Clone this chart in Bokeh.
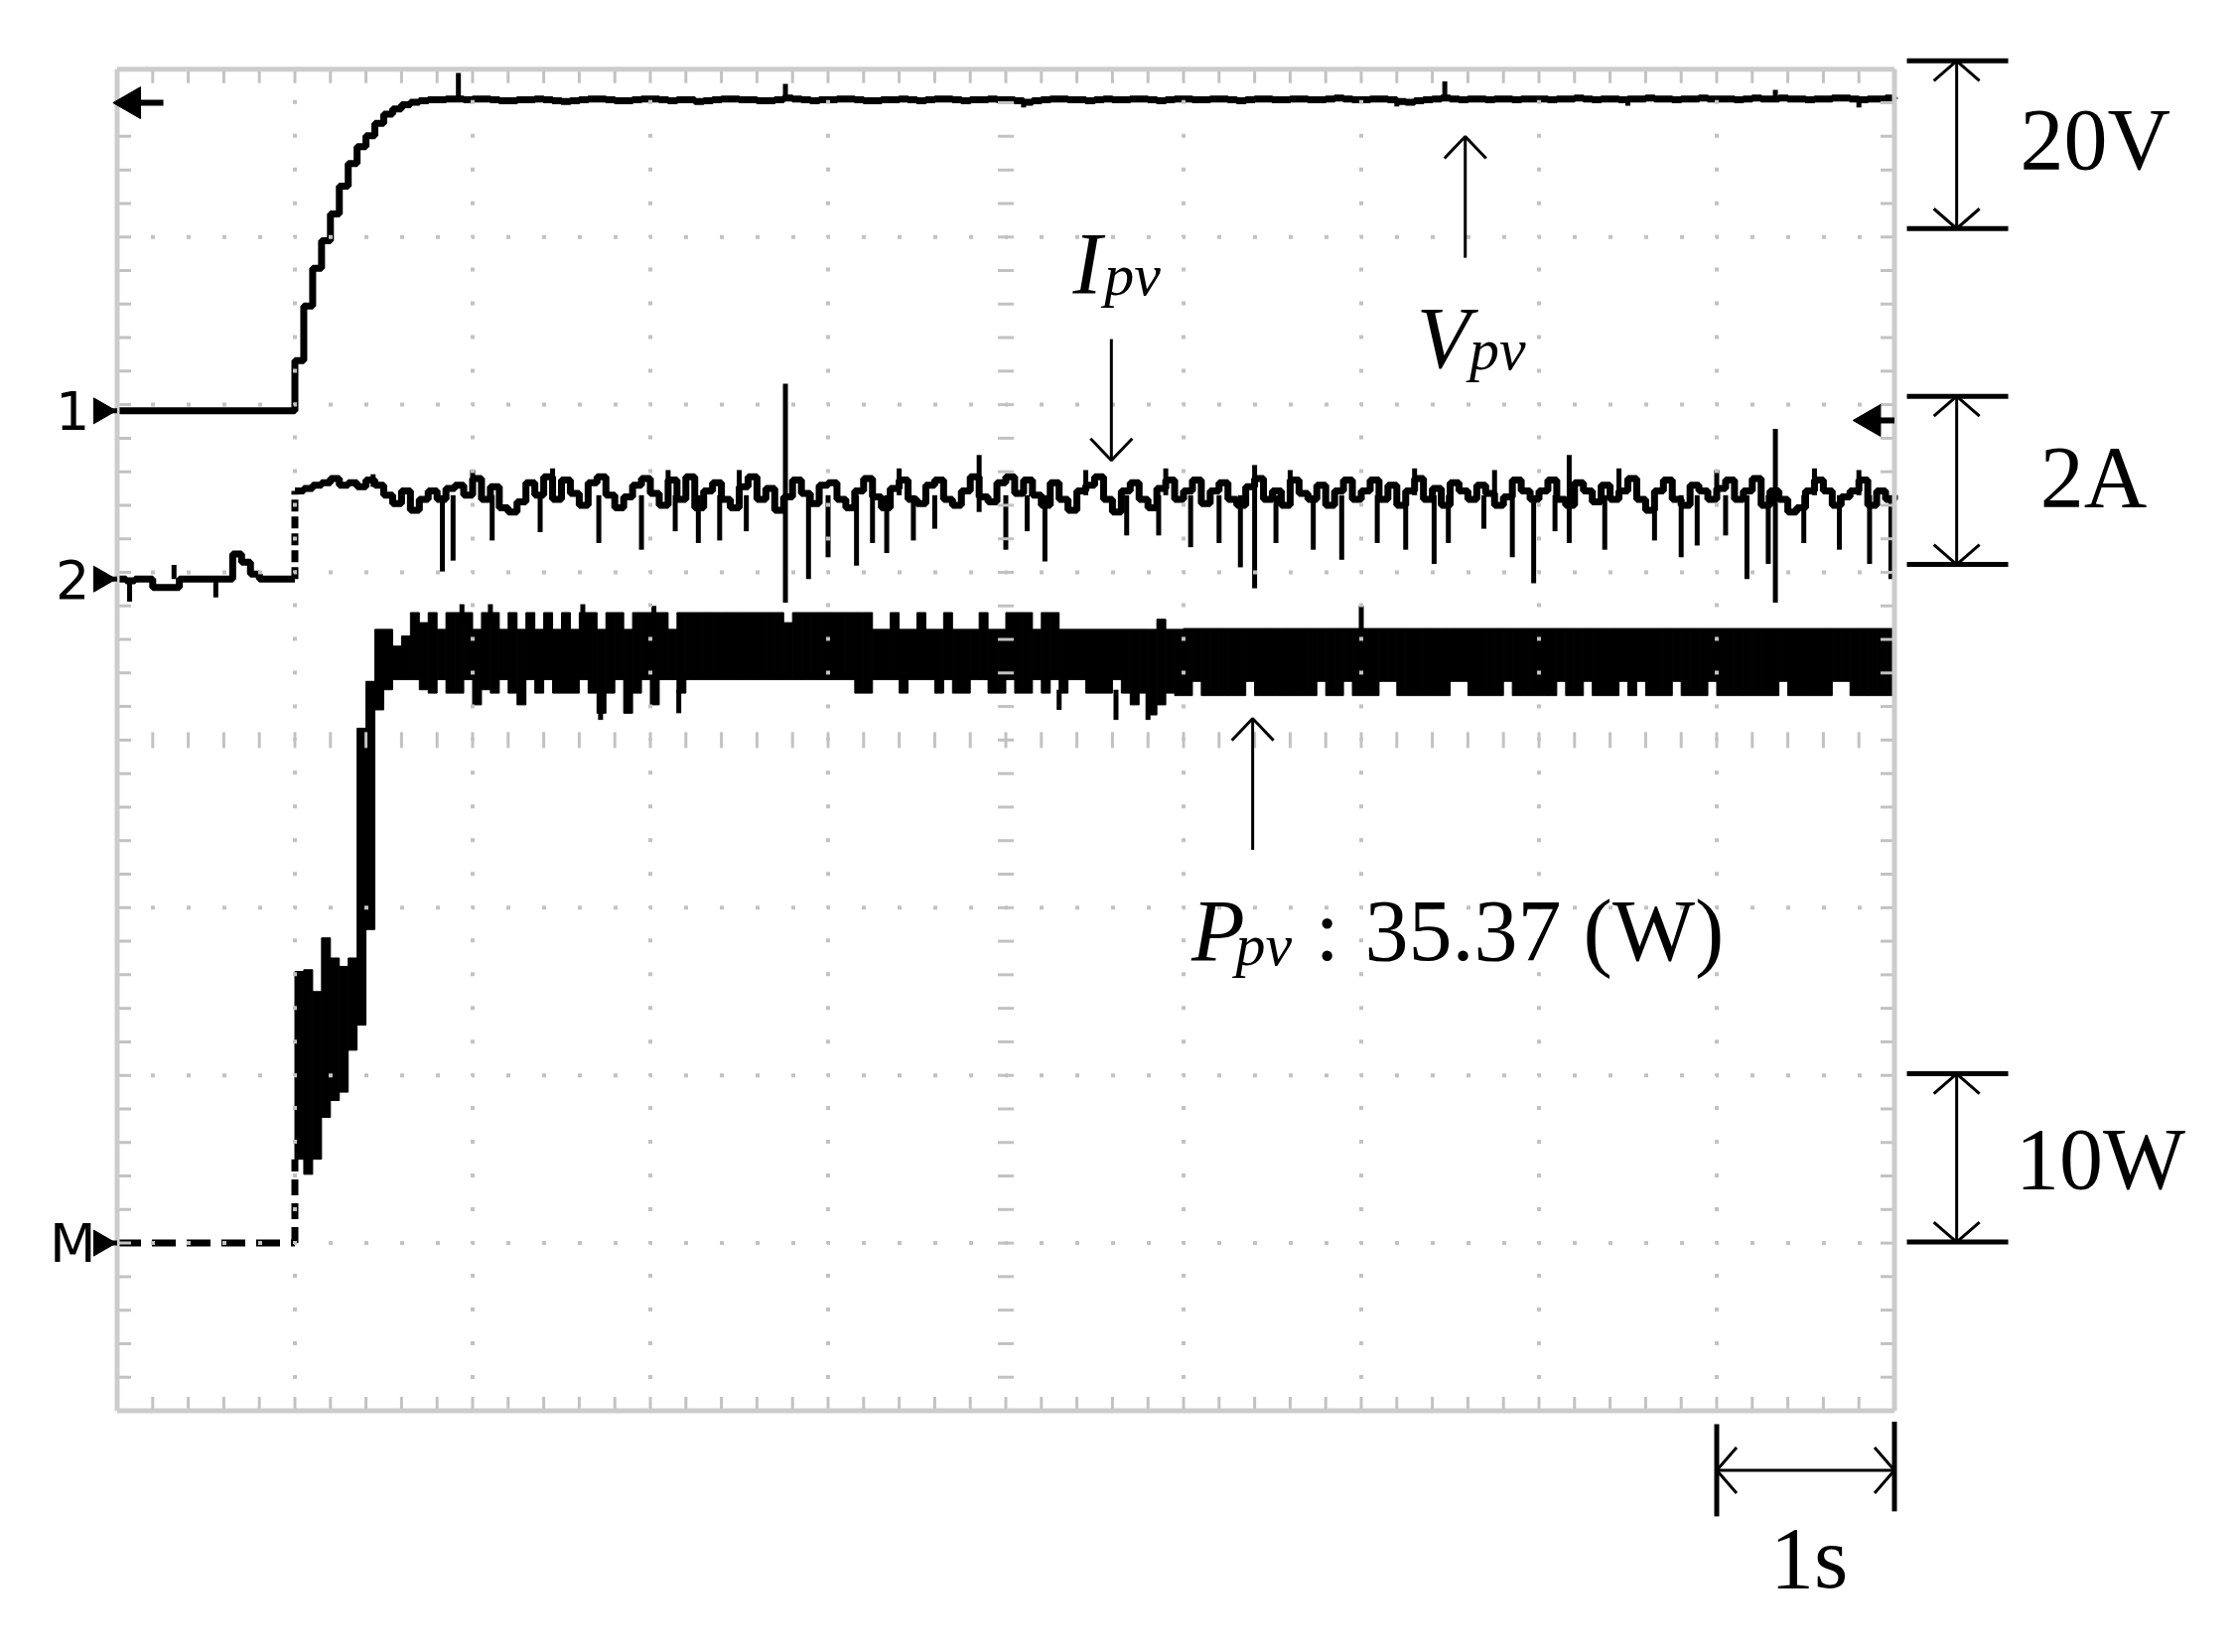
import numpy as np
from bokeh.plotting import figure
from bokeh.models import Range1d
from bokeh.core.properties import value
from bokeh.embed import file_html
from bokeh.resources import INLINE

# ================= scope settings =================
T_SAMPLE = 0.05                      # s between trace samples (time base 1 s/div)
V_PER_DIV, I_PER_DIV, P_PER_DIV = 20.0, 2.0, 10.0
V_GND, I_GND, P_GND = 5.963, 4.96, 1.0   # channel ground markers [div]

# ================= data =================
# Ch1: V_pv [V], one value every 0.05 s from t = 0 s
v_pv = [
    0.0, 0.0, 0.0, 0.0, 0.0, 0.0, 0.0, 0.0, 0.0, 0.0,
    0.0, 0.0, 0.0, 0.0, 0.0, 0.0, 0.0, 0.0, 0.0, 0.0,
    6.0, 12.5, 17.0, 20.3, 23.5, 26.8, 29.5, 31.5, 32.8, 34.3,
    35.4, 36.0, 36.5, 36.8, 37.0, 37.1, 37.1, 37.2, 37.2, 37.1,
    37.2, 37.2, 37.1, 37.0, 37.0, 37.1, 37.1, 37.2, 37.1, 37.0,
    36.9, 37.0, 37.1, 37.2, 37.2, 37.1, 37.0, 37.0, 37.1, 37.2,
    37.2, 37.1, 37.0, 37.1, 37.1, 36.9, 37.0, 37.1, 37.2, 37.2,
    37.1, 37.1, 37.0, 37.0, 37.1, 37.3, 37.2, 37.1, 37.0, 37.1,
    37.1, 37.2, 37.2, 37.1, 37.0, 37.0, 37.1, 37.1, 37.2, 37.1,
    37.0, 37.1, 37.2, 37.2, 37.1, 37.0, 37.1, 37.1, 37.2, 37.1,
    37.1, 37.0, 36.8, 37.0, 37.1, 37.2, 37.2, 37.1, 37.1, 37.0,
    37.1, 37.2, 37.1, 37.1, 37.2, 37.2, 37.1, 37.0, 37.1, 37.2,
    37.2, 37.1, 37.1, 37.2, 37.2, 37.1, 37.0, 37.1, 37.2, 37.2,
    37.1, 37.1, 37.2, 37.2, 37.1, 37.1, 37.2, 37.3, 37.2, 37.1,
    37.1, 37.2, 37.2, 37.1, 36.9, 36.8, 37.0, 37.1, 37.2, 37.3,
    37.2, 37.1, 37.2, 37.2, 37.1, 37.2, 37.2, 37.1, 37.2, 37.2,
    37.2, 37.1, 37.2, 37.2, 37.3, 37.2, 37.1, 37.2, 37.2, 37.1,
    37.2, 37.2, 37.3, 37.2, 37.2, 37.1, 37.2, 37.2, 37.3, 37.2,
    37.2, 37.2, 37.1, 37.2, 37.3, 37.2, 37.2, 37.3, 37.2, 37.2,
    37.1, 37.2, 37.2, 37.3, 37.3, 37.2, 37.1, 37.2, 37.2, 37.3,
    37.2,
]
v_spk_t = [1.92, 3.76, 7.47, 9.33, 5.10, 7.20, 8.50, 9.80]
v_spk_top = [40.3, 39.0, 39.3, 38.3, 37.1, 37.1, 37.2, 37.2]
v_spk_bot = [37.2, 37.1, 37.2, 37.2, 36.2, 36.3, 36.4, 36.2]

# Ch2: I_pv [A], before the start (t = 0 ... 0.95 s) and after it (t = 1.00 ... 10.00 s)
i_pre = [0.0, -0.02, 0.0, 0.0, -0.1, -0.1, -0.1, 0.0, 0.0, 0.0,
         0.0, 0.0, 0.0, 0.3, 0.2, 0.06, 0.0, 0.0, 0.0, 0.0]
i_post = [
    1.05, 1.08, 1.12, 1.15, 1.20, 1.12, 1.15, 1.10, 1.18, 1.12,
    1.00, 0.90, 1.05, 0.82, 0.95, 1.05, 0.95, 1.08, 1.12, 1.00,
    1.20, 0.95, 1.10, 0.85, 0.80, 0.92, 1.15, 1.00, 1.22, 0.95,
    1.18, 1.02, 0.88, 1.15, 1.22, 1.00, 0.85, 0.98, 1.12, 1.20,
    1.02, 0.88, 1.18, 0.95, 1.22, 0.85, 1.05, 1.15, 0.95, 0.85,
    1.10, 1.22, 0.95, 1.08, 0.82, 0.98, 1.18, 1.02, 0.90, 1.12,
    1.15, 0.95, 0.85, 1.05, 1.20, 0.98, 0.85, 1.08, 1.18, 0.95,
    0.90, 1.12, 1.18, 0.95, 0.88, 1.05, 1.22, 0.98, 0.92, 1.15,
    1.22, 1.02, 1.18, 1.00, 0.88, 1.15, 0.95, 0.82, 1.05, 1.12,
    1.22, 0.95, 0.80, 1.05, 1.15, 0.95, 0.85, 1.08, 1.18, 0.95,
    1.05, 1.18, 0.90, 1.05, 1.15, 0.95, 0.88, 1.10, 1.20, 0.95,
    1.05, 0.88, 1.18, 1.02, 0.95, 1.12, 0.88, 1.05, 1.18, 0.95,
    1.05, 1.18, 0.95, 1.12, 0.88, 1.05, 1.20, 0.95, 1.08, 0.88,
    1.15, 1.05, 0.95, 1.12, 1.02, 0.88, 0.98, 1.18, 1.05, 0.95,
    1.05, 1.18, 0.95, 0.88, 1.15, 1.05, 0.92, 1.12, 0.95, 1.05,
    1.20, 0.95, 0.82, 1.05, 1.18, 0.95, 0.88, 1.12, 1.05, 0.95,
    1.08, 1.18, 0.95, 1.05, 1.20, 0.88, 1.05, 0.95, 0.80, 0.85,
    1.05, 1.18, 1.05, 0.88, 0.98, 1.05, 1.18, 0.88, 1.05, 0.95,
    1.00,
]
i_spk_t = [0.07, 0.32, 0.555,
           1.83, 1.89, 2.11, 2.38, 2.71, 2.95, 3.14, 3.27, 3.39, 3.54, 3.76, 3.89,
           4.00, 4.16, 4.25, 4.33, 4.48, 4.60, 4.85, 5.00, 5.12, 5.22, 5.68, 5.86,
           6.04, 6.20, 6.32, 6.40, 6.52, 6.73, 6.89, 7.09, 7.25, 7.41, 7.49, 7.69,
           7.85, 7.97, 8.09, 8.17, 8.37, 8.65, 8.80, 8.89, 9.05, 9.17, 9.29, 9.33,
           9.49, 9.69, 9.86, 9.98,
           1.44, 2.00, 2.45, 3.10, 3.50, 4.40, 5.45, 5.90, 6.60, 7.30, 7.75, 8.45,
           9.00, 9.55, 9.80]
i_spk_top = [0.0, 0.17, 0.0,
             1.0, 1.0, 1.0, 1.0, 1.0, 1.0, 1.0, 1.0, 1.0, 1.0, 2.33, 1.0,
             1.0, 1.0, 1.0, 1.0, 1.0, 1.0, 1.48, 1.0, 1.0, 1.0, 1.0, 1.0,
             1.0, 1.0, 1.0, 1.36, 1.0, 1.0, 1.0, 1.0, 1.0, 1.0, 1.0, 1.0,
             1.0, 1.0, 1.0, 1.48, 1.0, 1.0, 1.0, 1.0, 1.0, 1.0, 1.0, 1.79,
             1.0, 1.0, 1.0, 1.0,
             1.25, 1.30, 1.32, 1.30, 1.30, 1.32, 1.30, 1.32, 1.30, 1.32, 1.30, 1.32,
             1.30, 1.32, 1.30]
i_spk_bot = [-0.27, 0.0, -0.22,
             0.09, 0.22, 0.46, 0.56, 0.43, 0.35, 0.57, 0.43, 0.46, 0.57, -0.28, 0.0,
             0.26, 0.16, 0.43, 0.31, 0.46, 0.60, 0.80, 0.35, 0.57, 0.21, 0.52, 0.52,
             0.38, 0.43, 0.14, -0.11, 0.43, 0.35, 0.23, 0.43, 0.35, 0.18, 0.43, 0.60,
             0.26, -0.05, 0.57, 0.43, 0.35, 0.46, 0.26, 0.40, 0.52, 0.0, 0.18, -0.28,
             0.43, 0.35, 0.18, 0.0,
             1.10, 1.0, 1.0, 1.0, 1.0, 1.0, 1.0, 1.0, 1.0, 1.0, 1.0, 1.0,
             1.0, 1.0, 1.0]

# Math: P_pv [W]; before start, then max/min envelope per 0.05 s from t = 1.00 s
p_pre_t = [0.0, 1.0]
p_pre = [0.0, 0.0]
p_hi = [
    16.2, 16.3, 15.0, 18.2, 17.0, 16.5, 17.0, 30.7, 33.5, 36.6,
    36.6, 35.6, 36.2, 37.6, 37.0, 37.6, 36.6, 37.6, 37.6, 37.6,
    36.6, 37.6, 37.6, 36.6, 37.6, 36.6, 37.6, 36.6, 37.6, 36.6,
    37.6, 36.6, 37.6, 37.6, 36.6, 37.6, 37.6, 36.6, 37.6, 37.6,
    37.6, 37.6, 36.6, 37.6, 37.6, 37.6, 37.6, 37.6, 37.6, 37.6,
    37.6, 37.6, 37.6, 37.6, 37.6, 37.0, 37.6, 37.6, 37.6, 37.6,
    37.6, 37.6, 37.6, 37.6, 37.6, 36.6, 36.6, 37.6, 36.6, 36.6,
    37.6, 36.6, 36.6, 37.6, 36.6, 36.6, 36.6, 37.6, 36.6, 36.6,
    37.6, 37.6, 37.6, 36.6, 37.6, 37.6, 36.6, 36.6, 36.6, 36.6,
    36.6, 36.6, 36.6, 36.6, 36.6, 36.6, 36.6, 37.2, 36.6, 36.6,
    36.65, 36.65, 36.65, 36.65, 36.65, 36.65, 36.65, 36.65, 36.65, 36.65,
    36.65, 36.65, 36.65, 36.65, 36.65, 36.65, 36.65, 36.65, 36.65, 36.65,
    36.65, 36.65, 36.65, 36.65, 36.65, 36.65, 36.65, 36.65, 36.65, 36.65,
    36.65, 36.65, 36.65, 36.65, 36.65, 36.65, 36.65, 36.65, 36.65, 36.65,
    36.65, 36.65, 36.65, 36.65, 36.65, 36.65, 36.65, 36.65, 36.65, 36.65,
    36.65, 36.65, 36.65, 36.65, 36.65, 36.65, 36.65, 36.65, 36.65, 36.65,
    36.65, 36.65, 36.65, 36.65, 36.65, 36.65, 36.65, 36.65, 36.65, 36.65,
    36.65, 36.65, 36.65, 36.65, 36.65, 36.65, 36.65, 36.65, 36.65, 36.65,
]
p_lo = [
    5.0, 4.1, 5.0, 7.5, 8.5, 9.0, 11.5, 13.0, 18.7, 31.8,
    33.0, 33.6, 33.6, 33.6, 33.0, 32.8, 33.6, 32.8, 32.8, 33.6,
    32.1, 33.0, 32.8, 33.6, 32.8, 32.1, 33.6, 32.8, 33.6, 32.8,
    32.8, 32.8, 33.6, 32.8, 31.6, 32.8, 33.6, 31.6, 32.8, 33.6,
    32.1, 33.6, 33.6, 32.8, 33.6, 33.6, 33.6, 33.6, 33.6, 33.6,
    33.6, 33.6, 33.6, 33.6, 33.6, 33.6, 33.6, 33.6, 33.6, 33.6,
    33.6, 33.6, 33.6, 32.8, 32.8, 33.6, 33.6, 33.6, 32.8, 33.6,
    33.6, 33.6, 32.8, 33.6, 32.8, 32.8, 33.6, 33.6, 32.8, 32.8,
    33.6, 32.8, 32.8, 33.6, 32.8, 33.6, 32.8, 33.6, 33.6, 32.8,
    32.8, 32.8, 33.6, 32.8, 32.1, 32.8, 31.5, 32.1, 32.8, 32.65,
    32.65, 33.5, 32.65, 32.65, 32.65, 32.65, 32.65, 33.5, 32.65, 32.65,
    32.65, 32.65, 32.65, 32.65, 32.65, 33.5, 32.65, 32.65, 33.5, 32.65,
    32.65, 32.65, 33.5, 33.5, 32.65, 32.65, 32.65, 32.65, 32.65, 32.65,
    33.5, 33.5, 32.65, 32.65, 32.65, 32.65, 33.5, 32.65, 32.65, 32.65,
    32.65, 32.65, 33.5, 32.65, 32.65, 33.5, 32.65, 32.65, 32.65, 33.5,
    32.65, 33.5, 32.65, 32.65, 32.65, 33.5, 32.65, 32.65, 32.65, 33.5,
    32.65, 32.65, 32.65, 32.65, 32.65, 32.65, 32.65, 33.5, 32.65, 32.65,
    32.65, 32.65, 32.65, 33.5, 33.5, 32.65, 32.65, 32.65, 32.65, 32.65,
]
p_spk_t = [1.94, 2.10, 2.62, 3.02, 7.00, 2.72, 2.875, 3.16, 5.30, 5.62, 5.80]
p_spk_top = [38.1, 38.1, 38.1, 38.0, 38.0, 33.0, 33.0, 33.0, 33.0, 33.0, 33.0]
p_spk_bot = [37.0, 37.0, 37.0, 37.0, 36.0, 31.2, 31.6, 31.6, 31.8, 31.2, 31.2]

# ================= canvas / scales =================
W, H = 2237, 1648
PX_X, PX_Y = 179.0, 168.9          # pixels per division
X0_PX, Y0_PX = 117.5, 1420.5       # canvas position of (t = 0, div = 0)
DX, DY = 1.0 / PX_X, 1.0 / PX_Y    # data units per pixel

x_rng = Range1d(-X0_PX / PX_X, (W - X0_PX) / PX_X)
y_rng = Range1d(-(H - Y0_PX) / PX_Y, Y0_PX / PX_Y)


def chan(gnd, per_div):
    return Range1d((y_rng.start - gnd) * per_div, (y_rng.end - gnd) * per_div)


p = figure(width=W, height=H, x_range=x_rng, y_range=y_rng,
           x_axis_type=None, y_axis_type=None, output_backend="svg",
           toolbar_location=None, min_border=0, outline_line_color=None,
           background_fill_color="white", border_fill_color="white")
p.extra_y_ranges = {"v": chan(V_GND, V_PER_DIV),
                    "i": chan(I_GND, I_PER_DIV),
                    "p": chan(P_GND, P_PER_DIV)}

TR = dict(line_color="black", line_width=7)
SPK = dict(line_color="black", line_width=5)
t_start = len(i_pre) * T_SAMPLE

# ---- Vpv ----
v_t = np.arange(len(v_pv)) * T_SAMPLE
p.step(v_t, v_pv, mode="after", y_range_name="v", **TR)
p.segment(x0=v_spk_t, y0=v_spk_bot, x1=v_spk_t, y1=v_spk_top, y_range_name="v", **SPK)

# ---- Ipv ----
i_t_pre = np.append(np.arange(len(i_pre)) * T_SAMPLE, t_start)
p.step(i_t_pre, i_pre + [i_pre[-1]], mode="after", y_range_name="i", **TR)
p.segment(x0=[t_start], y0=[i_pre[-1]], x1=[t_start], y1=[i_post[0]],
          line_dash="12 5", y_range_name="i", **TR)
i_t_post = t_start + np.arange(len(i_post)) * T_SAMPLE
p.step(i_t_post, i_post, mode="after", y_range_name="i", **TR)
p.segment(x0=i_spk_t, y0=i_spk_bot, x1=i_spk_t, y1=i_spk_top, y_range_name="i", **SPK)

# ---- Ppv ----
p.line(p_pre_t, p_pre, line_dash="24 11", y_range_name="p", **TR)
p.segment(x0=[t_start], y0=[p_pre[-1]], x1=[t_start], y1=[p_lo[0]],
          line_dash="16 8", y_range_name="p", **TR)
p_t = t_start + np.arange(len(p_hi)) * T_SAMPLE
p.quad(left=p_t, right=p_t + T_SAMPLE, bottom=p_lo, top=p_hi,
       fill_color="black", line_color="black", line_width=1, y_range_name="p")
p.segment(x0=p_spk_t, y0=p_spk_bot, x1=p_spk_t, y1=p_spk_top, y_range_name="p", **SPK)

# ================= graticule (drawn over the traces, as on the scope) =================
GRAT = "#c2c2c2"
FRAME = "#cccccc"
rows = [1, 2, 3, 5, 6, 7]
cols = [1, 2, 3, 4, 6, 7, 8, 9]
hx0 = [k for d in rows for k in range(10)]
hy = [d for d in rows for k in range(10)]
p.segment(x0=hx0, y0=hy, x1=[k + 1 for k in hx0], y1=hy, line_color=GRAT,
          line_width=4, line_dash="4 32", line_dash_offset=2)
vx = [c for c in cols for k in range(8)]
vy0 = [k for c in cols for k in range(8)]
p.segment(x0=vx, y0=vy0, x1=vx, y1=[k + 1 for k in vy0], line_color=GRAT,
          line_width=4, line_dash="4 30", line_dash_offset=2)

minor_t = np.round(np.arange(0, 10.001, 0.2), 3)
minor_d = np.round(np.arange(0, 8.001, 0.2), 3)
TK = dict(line_color=GRAT, line_width=3)
half = 8
p.segment(x0=minor_t, y0=4 - half * DY, x1=minor_t, y1=4 + half * DY, **TK)
p.segment(x0=5 - half * DX, y0=minor_d, x1=5 + half * DX, y1=minor_d, **TK)
edge = 14
p.segment(x0=minor_t, y0=0, x1=minor_t, y1=edge * DY, **TK)
p.segment(x0=minor_t, y0=8, x1=minor_t, y1=8 - edge * DY, **TK)
p.segment(x0=0, y0=minor_d, x1=edge * DX, y1=minor_d, **TK)
p.segment(x0=10, y0=minor_d, x1=10 - edge * DX, y1=minor_d, **TK)
p.segment(x0=[0, 0, 0, 10], y0=[0, 8, 0, 0], x1=[10, 10, 0, 10], y1=[0, 8, 8, 8],
          line_color=FRAME, line_width=5)

# ================= channel markers =================
MK_FONT = value("DejaVu Sans")
p.text(x=[-0.25, -0.25, -0.25], y=[V_GND, I_GND, P_GND], text=["1", "2", "M"],
       text_font=MK_FONT, text_font_size="54px", text_align="center",
       text_baseline="middle", text_color="black")
p.scatter(x=[-0.09, -0.09, -0.09], y=[V_GND, I_GND, P_GND], marker="triangle",
          size=26, angle=-np.pi / 2, color="black")
p.scatter(x=[0.08, 9.87], y=[7.80, 5.906], marker="triangle", size=32,
          angle=np.pi / 2, color="black")

# ================= annotation arrows and brackets =================
ann_xs, ann_ys, ann_w = [], [], []


def seg(xa, ya, xb, yb, w=3):
    ann_xs.append([xa, xb]); ann_ys.append([ya, yb]); ann_w.append(w)


def vhead(x, y, up, hw=23, hl=20, w=3):
    s = -1 if up else 1
    ann_xs.append([x - hw * DX, x, x + hw * DX])
    ann_ys.append([y + s * hl * DY, y, y + s * hl * DY]); ann_w.append(w)


def hhead(x, y, right, hw=23, hl=20, w=3):
    s = -1 if right else 1
    ann_xs.append([x + s * hl * DX, x, x + s * hl * DX])
    ann_ys.append([y - hw * DY, y, y + hw * DY]); ann_w.append(w)


def vbracket(x, d_lo, d_hi, xl, xr):
    seg(xl, d_hi, xr, d_hi, 5); seg(xl, d_lo, xr, d_lo, 5)
    seg(x, d_lo, x, d_hi, 3); vhead(x, d_hi, True); vhead(x, d_lo, False)


# stems of the channel markers
for d in (V_GND, I_GND, P_GND):
    seg(-0.06, d, 0.0, d, 5)
seg(0.08, 7.80, 0.26, 7.80, 6)
seg(9.87, 5.906, 10.0, 5.906, 6)

vbracket(10.35, 7.05, 8.05, 10.07, 10.64)      # 20 V/div
vbracket(10.35, 5.047, 6.05, 10.07, 10.64)     # 2 A/div
vbracket(10.35, 1.006, 2.01, 10.07, 10.64)     # 10 W/div
# 1 s/div
seg(9.0, -0.355, 10.0, -0.355, 3)
hhead(9.0, -0.355, False); hhead(10.0, -0.355, True)
seg(9.0, -0.08, 9.0, -0.63, 5); seg(10.0, -0.065, 10.0, -0.60, 5)
# pointers
seg(5.594, 6.391, 5.594, 5.668); vhead(5.594, 5.668, False, hw=21, hl=22)
seg(7.585, 6.876, 7.585, 7.599); vhead(7.585, 7.599, True, hw=21, hl=22)
seg(6.389, 3.345, 6.389, 4.128); vhead(6.389, 4.128, True, hw=21, hl=22)

p.multi_line(xs=ann_xs, ys=ann_ys, line_width=ann_w, line_color="black")

# ================= texts =================
SERIF = value("Liberation Serif")
BIG = "88px"
SUB = "60px"
p.text(x=[11.13, 11.12, 11.16, 9.52], y=[7.58, 5.567, 1.50, -0.88],
       text=["20V", "2A", "10W", "1s"], text_font=SERIF, text_font_size=BIG,
       text_align="center", text_baseline="middle", text_color="black")
# italic symbols with subscripts
p.text(x=[5.377, 7.312, 6.044], y=[6.843, 6.40, 2.861], text=["I", "V", "P"],
       text_font=SERIF, text_font_size=BIG, text_font_style="italic",
       text_align="left", text_baseline="alphabetic", text_color="black")
p.text(x=[5.554, 7.609, 6.293], y=[6.775, 6.33, 2.775], text=["pv", "pv", "pv"],
       text_font=SERIF, text_font_size=SUB, text_font_style="italic",
       text_align="left", text_baseline="alphabetic", text_color="black")
p.text(x=[6.74, 7.02], y=[2.861, 2.861], text=[":", "35.37 (W)"],
       text_font=SERIF, text_font_size=BIG, text_align="left",
       text_baseline="alphabetic", text_color="black")

open("out.html", "w").write(file_html(p, INLINE))
